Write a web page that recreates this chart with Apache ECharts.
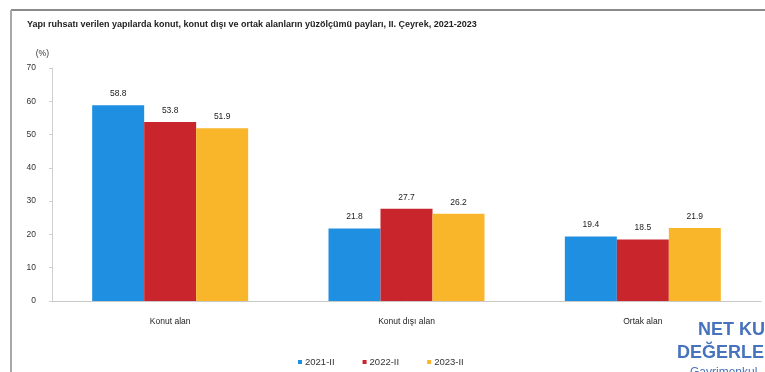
<!DOCTYPE html>
<html>
<head>
<meta charset="utf-8">
<script src="https://cdn.jsdelivr.net/npm/echarts@6/dist/echarts.min.js"></script>
<style>
  html, body { margin: 0; padding: 0; background: #fff; }
  #chart { width: 765px; height: 372px; }
</style>
</head>
<body>
<div id="chart"></div>
<script>
// Categories and series values (floor-area shares, %)
const categories = ['Konut alan', 'Konut dışı alan', 'Ortak alan'];
const seriesNames = ['2021-II', '2022-II', '2023-II'];
const values2021 = [58.8, 21.8, 19.4];
const values2022 = [53.8, 27.7, 18.5];
const values2023 = [51.9, 26.2, 21.9];
const yTicks = [0, 10, 20, 30, 40, 50, 60, 70];

const colors = ['#1e8fe1', '#c9252c', '#f9b62a'];
const allValues = [values2021, values2022, values2023];
const font = 'Liberation Sans, Arial, sans-serif';

const chart = echarts.init(document.getElementById('chart'));
chart.setOption({
  animation: false,
  backgroundColor: '#ffffff',
  textStyle: { fontFamily: font },
  title: {
    text: 'Yapı ruhsatı verilen yapılarda konut, konut dışı ve ortak alanların yüzölçümü payları, II. Çeyrek, 2021-2023',
    left: 22, top: 15,
    textStyle: { fontSize: 9, fontWeight: 'bold', color: '#222' }
  },
  legend: {
    bottom: 0, left: 293, itemWidth: 4, itemHeight: 4, itemGap: 28,
    icon: 'rect',
    textStyle: { fontSize: 9.5, color: '#333', padding: [0, 0, 0, -2] },
    data: seriesNames
  },
  grid: { left: 52, right: 4, top: 68, bottom: 71 },
  xAxis: {
    type: 'category', data: categories,
    axisLine: { lineStyle: { color: '#c8c8c8' } },
    axisTick: { show: false },
    axisLabel: { fontSize: 8.5, color: '#222', margin: 16 }
  },
  yAxis: {
    type: 'value', min: yTicks[0], max: yTicks[yTicks.length - 1], interval: 10,
    name: '(%)', nameLocation: 'end', nameGap: 10,
    nameTextStyle: { fontSize: 8.5, color: '#333', align: 'right', padding: [0, 3, 0, 0] },
    axisLine: { show: true, lineStyle: { color: '#d0d0d0' } },
    axisTick: { show: true, length: 3, lineStyle: { color: '#d0d0d0' } },
    splitLine: { show: false },
    axisLabel: { fontSize: 8.5, color: '#333', margin: 16 }
  },
  series: seriesNames.map((name, i) => ({
    name: name,
    type: 'bar',
    data: allValues[i],
    barGap: '0%',
    barCategoryGap: '34%',
    itemStyle: { color: colors[i] },
    label: {
      show: true, position: 'top', distance: 7,
      fontSize: 8.5, color: '#222',
      formatter: p => p.value.toFixed(1)
    }
  })),
  graphic: [
    { type: 'line', shape: { x1: 11, y1: 10, x2: 765, y2: 10 }, style: { stroke: '#8a8a8a', lineWidth: 2 } },
    { type: 'line', shape: { x1: 11, y1: 10, x2: 11, y2: 372 }, style: { stroke: '#a8a8a8', lineWidth: 2 } },
    { type: 'text', left: 698, top: 321, style: { text: 'NET KURUMSAL', fill: '#4772bd', fontSize: 18, fontWeight: 'bold', fontFamily: font } },
    { type: 'text', left: 677, top: 344, style: { text: 'DEĞERLEME', fill: '#4772bd', fontSize: 18, fontWeight: 'bold', fontFamily: font } },
    { type: 'text', left: 690, top: 367, style: { text: 'Gayrimenkul', fill: '#4772bd', fontSize: 12, fontFamily: font } }
  ]
});
</script>
</body>
</html>
